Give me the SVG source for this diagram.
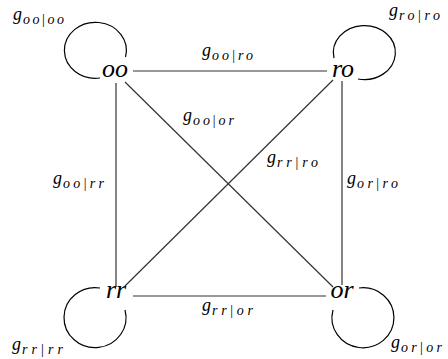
<svg xmlns="http://www.w3.org/2000/svg" width="448" height="359" viewBox="0 0 448 359">
<style>
.edge{stroke:#333;stroke-width:1.2;fill:none}
.loop{stroke:#000;stroke-width:1.2;fill:none}
.node{font-family:"Liberation Serif","DejaVu Serif",serif;font-style:italic;font-size:26px;fill:#000;text-anchor:middle}
.g{font-family:"Liberation Serif","DejaVu Serif",serif;font-style:italic;font-size:18px;fill:#000}
.s{font-family:"Liberation Serif","DejaVu Serif",serif;font-style:italic;font-size:14px;fill:#000}
.b{font-style:normal}
</style>
<rect width="448" height="359" fill="#fff"/>
<g id="connectors">
<line class="edge" x1="133" y1="71" x2="327" y2="71"/>
<line class="edge" x1="133" y1="296" x2="326" y2="296"/>
<line class="edge" x1="116" y1="83" x2="116" y2="287"/>
<line class="edge" x1="342" y1="81" x2="342" y2="285"/>
<line class="edge" x1="125" y1="82" x2="333" y2="287"/>
<line class="edge" x1="333" y1="80" x2="125" y2="286"/>
<path class="loop" d="M100 78 A31 28 0 1 1 125.5 57"/>
<path class="loop" d="M334 58 A31 27 0 1 1 358 79"/>
<path class="loop" d="M100 288 A31 30 0 1 0 125 310"/>
<path class="loop" d="M359 288 A31 30 0 1 1 333 310"/>
</g>
<g id="node-oo"><text class="node" x="115" y="77">oo</text></g>
<g id="node-ro"><text class="node" x="343" y="77">ro</text></g>
<g id="node-rr"><text class="node" x="116" y="298">rr</text></g>
<g id="node-or"><text class="node" x="342" y="298">or</text></g>
<g id="labels">
<text class="g" x="13" y="20">g</text><text class="s" x="23" y="24" textLength="41" lengthAdjust="spacing">oo<tspan class="b">|</tspan>oo</text>
<text class="g" x="389" y="16">g</text><text class="s" x="399" y="20" textLength="41" lengthAdjust="spacing">ro<tspan class="b">|</tspan>ro</text>
<text class="g" x="12" y="350">g</text><text class="s" x="22" y="354" textLength="41" lengthAdjust="spacing">rr<tspan class="b">|</tspan>rr</text>
<text class="g" x="391" y="348">g</text><text class="s" x="401" y="352" textLength="41" lengthAdjust="spacing">or<tspan class="b">|</tspan>or</text>
<text class="g" x="202" y="56">g</text><text class="s" x="212" y="60" textLength="41" lengthAdjust="spacing">oo<tspan class="b">|</tspan>ro</text>
<text class="g" x="183" y="121">g</text><text class="s" x="193" y="125" textLength="41" lengthAdjust="spacing">oo<tspan class="b">|</tspan>or</text>
<text class="g" x="267" y="163">g</text><text class="s" x="277" y="167" textLength="41" lengthAdjust="spacing">rr<tspan class="b">|</tspan>ro</text>
<text class="g" x="53" y="184">g</text><text class="s" x="63" y="188" textLength="41" lengthAdjust="spacing">oo<tspan class="b">|</tspan>rr</text>
<text class="g" x="347" y="184">g</text><text class="s" x="357" y="188" textLength="41" lengthAdjust="spacing">or<tspan class="b">|</tspan>ro</text>
<text class="g" x="202" y="311">g</text><text class="s" x="212" y="315" textLength="41" lengthAdjust="spacing">rr<tspan class="b">|</tspan>or</text>
</g>
</svg>
